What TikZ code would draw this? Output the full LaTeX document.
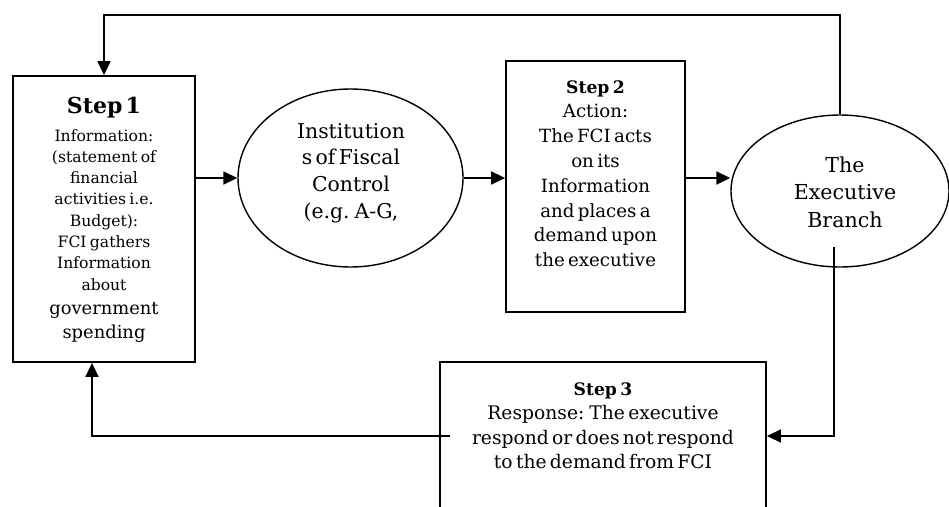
\documentclass[tikz,border=0pt]{standalone}
\usepackage{fontspec}
\setmainfont{DejaVu Serif}
\usetikzlibrary{arrows.meta,shapes.geometric,calc}
\tikzset{
  box/.style={draw, line width=1.8pt, inner sep=0pt},
  oval/.style={draw, ellipse, line width=1.4pt, inner sep=0pt},
  arr/.style={line width=1.6pt, -{Triangle[length=14pt,width=13pt]}},
  txt/.style={inner sep=0pt, text width=#1, align=center, anchor=base}
}
\begin{document}
\begin{tikzpicture}[x=1pt,y=-1pt]
\useasboundingbox (0,0) rectangle (949,506);
\clip (0,0) rectangle (949,506);
\fill[white] (0,0) rectangle (949,506);
% shapes
\node[box, minimum width=182pt, minimum height=286pt] (s1) at (104,219) {};
\node[oval, minimum width=225pt, minimum height=178pt] (e1) at (350.5,178) {};
\node[box, minimum width=179pt, minimum height=251pt] (s2) at (595.5,186.5) {};
\node[oval, minimum width=218pt, minimum height=152pt] (e2) at (840,191) {};
\node[box, minimum width=326pt, minimum height=148pt] (s3) at (603,436) {};
% texts
\node[txt=176pt] (s1t) at (104,113) {{\fontsize{22}{22}\selectfont\bfseries Step 1\par}\vspace{6.7pt}
  \fontsize{15.6}{21.3}\selectfont Information:\\(statement of\\financial\\activities i.e.\\Budget):\\FCI gathers\\Information\\about\par
  \fontsize{17.9}{24}\selectfont government\\spending\par};
\node[txt=200pt] (e1t) at (351,138) {\fontsize{20.4}{26.7}\selectfont Institution\\s of Fiscal\\Control\\(e.g. A-G,\par};
\node[txt=176pt] (s2t) at (595.5,93) {{\fontsize{17.2}{24.8}\selectfont\bfseries Step 2\par}
  \fontsize{18.2}{24.8}\selectfont Action:\\The FCI acts\\on its\\Information\\and places a\\demand upon\\the executive\par};
\node[txt=200pt] (e2t) at (845,172) {\fontsize{20.6}{27.5}\selectfont The\\Executive\\Branch\par};
\node[txt=320pt] (s3t) at (603,395) {{\fontsize{17.2}{24.5}\selectfont\bfseries Step 3\par}
  \fontsize{18.7}{24.5}\selectfont Response: The executive\\respond or does not respond\\to the demand from FCI\par};
% connectors
\coordinate (top) at (0,15);
\coordinate (e2in) at (834,247);
\coordinate (s3in) at (450,436);
\coordinate (bx) at (92,0);
\draw[arr] (s1.east |- e1.west) -- (e1.west);
\draw[arr] (e1.east) -- (e1.east -| s2.west);
\draw[arr] (s2.east |- e1.east) -- (e2.west |- e1.east);
\draw[arr] (e2.north) -- (e2.north |- top) -| (s1.north);
\draw[arr] (e2in) |- (s3.east);
\draw[arr] (s3in) -| (s1.south -| bx);
\end{tikzpicture}
\end{document}
